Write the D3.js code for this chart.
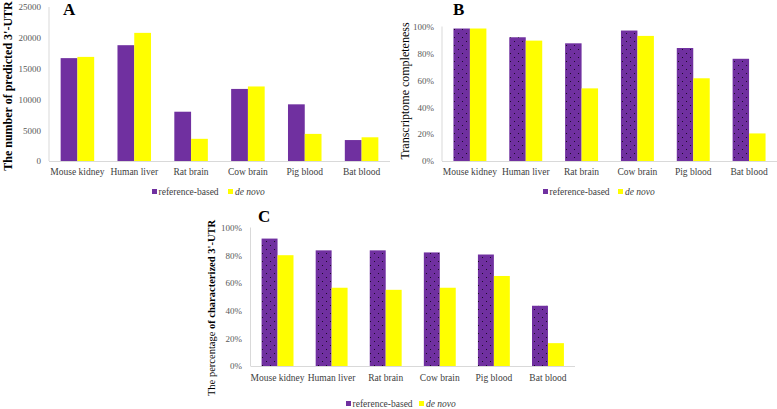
<!DOCTYPE html>
<html>
<head>
<meta charset="utf-8">
<script src="https://cdn.jsdelivr.net/npm/d3@7"></script>
<style>
  html, body { margin: 0; padding: 0; background: #ffffff; }
  svg { display: block; }
  svg text { font-family: "Liberation Serif", "Times New Roman", serif !important; }
</style>
</head>
<body>
<svg id="chart" width="777" height="409"></svg>
<script>
// ---- data ----
const categories = ["Mouse kidney", "Human liver", "Rat brain", "Cow brain", "Pig blood", "Bat blood"];
const seriesNames = ["reference-based", "de novo"];

// Panel A: number of predicted 3'-UTR
const predictedRef    = [16700, 18800, 8000, 11700, 9200, 3400];
const predictedDeNovo = [16900, 20800, 3600, 12100, 4400, 3850];
const predictedTicks  = [0, 5000, 10000, 15000, 20000, 25000];

// Panel B: transcriptome completeness (%)
const completeRef    = [98.5, 92, 87.5, 97, 84, 76];
const completeDeNovo = [98.5, 89.5, 54, 93, 61.5, 20.5];

// Panel C: percentage of characterized 3'-UTR (%)
const characterizedRef    = [92, 83.5, 83.5, 82, 80.5, 43.5];
const characterizedDeNovo = [80, 56.5, 55, 56.5, 65, 16.5];

const percentTicks = [0, 20, 40, 60, 80, 100];

// ---- drawing ----
const svg = d3.select("#chart");
const PURPLE = "#7030A0", YELLOW = "#FFFF00";
const SERIF = '"Liberation Serif", "Times New Roman", serif';

const defs = svg.append("defs");
const pat = defs.append("pattern").attr("id", "dots")
  .attr("patternUnits", "userSpaceOnUse").attr("width", 8).attr("height", 8);
pat.append("rect").attr("width", 8).attr("height", 8).attr("fill", PURPLE);
pat.append("rect").attr("x", 2).attr("y", 1).attr("width", 1).attr("height", 1).attr("fill", "#1b0b28");
pat.append("rect").attr("x", 6).attr("y", 5).attr("width", 1).attr("height", 1).attr("fill", "#1b0b28");

function drawPanel(cfg) {
  const g = svg.append("g");
  const x = d3.scaleBand().domain(categories).range([cfg.x0, cfg.x1])
    .paddingInner(0.41).paddingOuter(0.205);
  const xs = d3.scaleBand().domain(seriesNames).range([0, x.bandwidth()]);
  const y = d3.scaleLinear().domain([0, cfg.max]).range([cfg.yBase, cfg.yTop]);

  // y axis line
  g.append("line").attr("x1", cfg.x0).attr("x2", cfg.x0)
    .attr("y1", y(cfg.max)).attr("y2", cfg.yBase)
    .attr("stroke", "#d9d9d9").attr("stroke-width", 1);

  // y axis tick labels
  const yAxis = d3.axisLeft(y).tickValues(cfg.ticks).tickSize(0).tickPadding(0)
    .tickFormat(cfg.fmt);
  const ya = g.append("g").attr("transform", `translate(${cfg.tickX},0)`).call(yAxis);
  ya.attr("font-family", null);
  ya.select(".domain").remove();
  ya.selectAll("text").style("font-family", SERIF).style("font-size", "9px")
    .attr("fill", "#595959");

  // bars
  const series = [cfg.ref, cfg.dn];
  series.forEach((vals, si) => {
    g.selectAll(null).data(vals).enter().append("rect")
      .attr("x", (d, i) => x(categories[i]) + xs(seriesNames[si]))
      .attr("width", xs.bandwidth())
      .attr("y", d => y(d))
      .attr("height", d => cfg.yBase - y(d))
      .attr("fill", si === 0 ? (cfg.dotted ? "url(#dots)" : PURPLE) : YELLOW);
  });

  // baseline
  g.append("line").attr("x1", cfg.x0).attr("x2", cfg.x1)
    .attr("y1", cfg.yBase + 0.5).attr("y2", cfg.yBase + 0.5)
    .attr("stroke", "#d9d9d9").attr("stroke-width", 1);

  // x axis category labels
  const xAxis = d3.axisBottom(x).tickSize(0).tickPadding(0);
  const xa = g.append("g").attr("transform", `translate(0,${cfg.catY})`).call(xAxis);
  xa.attr("font-family", null);
  xa.select(".domain").remove();
  xa.selectAll("text").style("font-family", SERIF).style("font-size", "9.5px")
    .attr("fill", "#404040").attr("dy", "0");

  // panel letter
  g.append("text").attr("x", cfg.letterX).attr("y", cfg.letterY)
    .style("font-family", SERIF).style("font-size", "17px")
    .attr("font-weight", "bold").attr("fill", "#000")
    .text(cfg.letter);

  // y title
  const t = g.append("text")
    .attr("transform", `translate(${cfg.titleX},${cfg.titleY}) rotate(-90)`)
    .attr("text-anchor", "middle").attr("fill", "#000")
    .style("font-family", SERIF).style("font-size", cfg.titleSize + "px");
  cfg.title.forEach(part => {
    t.append("tspan").attr("font-weight", part.bold ? "bold" : "normal").text(part.text);
  });

  // legend
  const lg = g.append("g").attr("transform", `translate(${cfg.legX},${cfg.legY})`);
  lg.append("rect").attr("x", 0).attr("y", -6).attr("width", 5).attr("height", 5)
    .attr("fill", PURPLE);
  lg.append("text").attr("x", 6.5).attr("y", 0)
    .style("font-family", SERIF).style("font-size", "9.5px").attr("fill", "#404040")
    .text(seriesNames[0]);
  lg.append("rect").attr("x", cfg.legGap).attr("y", -6).attr("width", 5).attr("height", 5)
    .attr("fill", YELLOW);
  lg.append("text").attr("x", cfg.legGap + 7).attr("y", 0)
    .style("font-family", SERIF).style("font-size", "9.5px")
    .attr("font-style", "italic").attr("fill", "#404040").text(seriesNames[1]);
}

const pctFmt = d => d + "%";

drawPanel({
  ref: predictedRef, dn: predictedDeNovo, max: 25000, ticks: predictedTicks, fmt: d3.format("d"),
  x0: 49, x1: 390, yBase: 161, yTop: 7, tickX: 41, catY: 175, dotted: false,
  letter: "A", letterX: 63, letterY: 15,
  title: [{text: "The number of predicted 3'-UTR", bold: true}], titleX: 12, titleY: 86, titleSize: 12,
  legX: 152, legY: 195, legGap: 76
});

drawPanel({
  ref: completeRef, dn: completeDeNovo, max: 100, ticks: percentTicks, fmt: pctFmt,
  x0: 442, x1: 777, yBase: 161, yTop: 26.5, tickX: 434, catY: 175, dotted: true,
  letter: "B", letterX: 453, letterY: 15,
  title: [{text: "Transcriptome completeness", bold: false}], titleX: 409, titleY: 91, titleSize: 12,
  legX: 543, legY: 195, legGap: 75
});

drawPanel({
  ref: characterizedRef, dn: characterizedDeNovo, max: 100, ticks: percentTicks, fmt: pctFmt,
  x0: 250.5, x1: 575, yBase: 366, yTop: 227.5, tickX: 242, catY: 381, dotted: true,
  letter: "C", letterX: 258, letterY: 222,
  title: [{text: "The percentage ", bold: false}, {text: "of characterized 3'-UTR", bold: true}],
  titleX: 215, titleY: 308, titleSize: 10.5,
  legX: 346, legY: 407, legGap: 73
});
</script>
</body>
</html>
